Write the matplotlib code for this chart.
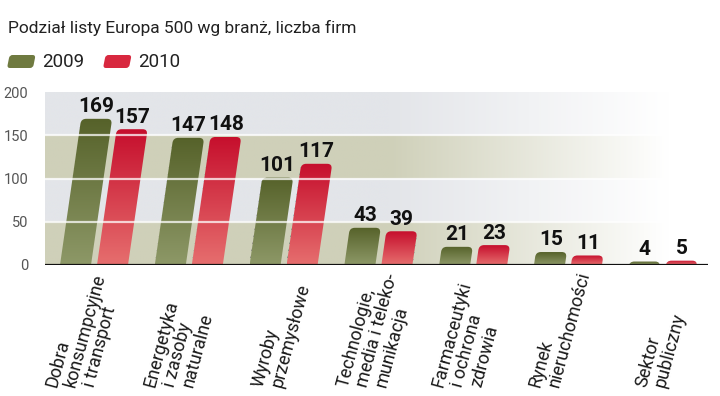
import matplotlib
matplotlib.use('Agg')
import matplotlib.pyplot as plt
import numpy as np
from matplotlib.patches import FancyBboxPatch
from matplotlib.transforms import Affine2D
from matplotlib.colors import to_rgb

categories = ['Dobra\nkonsumpcyjne\ni transport',
              'Energetyka\ni zasoby\nnaturalne',
              'Wyroby\nprzemysłowe',
              'Technologie,\nmedia i teleko-\nmunikacja',
              'Farmaceutyki\ni ochrona\nzdrowia',
              'Rynek\nnieruchomości',
              'Sektor\npubliczny']
values_2009 = [169, 147, 101, 43, 21, 15, 4]
values_2010 = [157, 148, 117, 39, 23, 11, 5]
series_names = ['2009', '2010']
yticks = [0, 50, 100, 150, 200]
title = 'Podział listy Europa 500 wg branż, liczba firm'

# layout (pixels in a 720x396 figure)
W, H = 720, 396
label_px = [43, 142, 250, 335, 430, 527, 633]   # left edge of each category label
green_top, green_bot = '#56622a', '#8d9867'
red_top, red_bot = '#c60f2d', '#e66e6e'
band_a, band_b = '#cfd0b9', '#e3e5e9'

fig = plt.figure(figsize=(7.2, 3.96), dpi=100)
ax = fig.add_axes([45 / W, 1 - 265 / H, (708 - 45) / W, (265 - 92) / H])
ax.set_xlim(-0.517, 6.477)
ax.set_ylim(0, 200)
for s in ax.spines.values():
    s.set_visible(False)

# background bands fading to white on the right
nx = 400
fade = np.clip((np.linspace(0, 1, nx) - 0.52) / 0.42, 0, 1)[None, :, None]
rows = []
for lo in range(0, 200):
    rows.append(to_rgb(band_a) if (lo // 50) % 2 == 0 else to_rgb(band_b))
bg = np.array(rows)[:, None, :] * (1 - fade) + fade
ax.imshow(bg, extent=(-0.517, 6.477, 0, 200), origin='lower', aspect='auto',
          zorder=0, interpolation='bilinear')

# skewed bars with rounded tops and a vertical gradient
px_x = (708 - 45) / (6.477 + 0.517)
px_y = (265 - 92) / 200.0
slope = 0.125 / px_x  # x data units per y unit
skew = Affine2D.from_values(1, 0, slope, 1, 0, 0)
tr = skew + ax.transData
bw = 31 / px_x
off = 18.5 / px_x
radius = 5 / px_x
grad = np.linspace(0, 1, 64)[:, None]

def draw_bar(xc, val, ctop, cbot):
    x0 = xc - bw / 2
    patch = FancyBboxPatch((x0, -20), bw, val + 20,
                           boxstyle='round,pad=0,rounding_size=%f' % radius,
                           mutation_aspect=px_x / px_y,
                           facecolor='none', edgecolor='none', transform=tr)
    ax.add_patch(patch)
    t, b = np.array(to_rgb(ctop)), np.array(to_rgb(cbot))
    img = b[None, None, :] * (1 - grad[:, :, None]) + t[None, None, :] * grad[:, :, None]
    im = ax.imshow(img, extent=(x0, x0 + bw, 0, val), origin='lower',
                   aspect='auto', transform=tr, zorder=2, interpolation='bilinear')
    im.set_clip_path(patch)
    ax.text(xc + slope * val, val + 3, str(val), ha='center', va='bottom',
            fontsize=15, fontweight='bold', family='Roboto', color='#111111', zorder=4)

x = np.arange(len(categories))
for i in x:
    draw_bar(i - off, values_2009[i], green_top, green_bot)
    draw_bar(i + off, values_2010[i], red_top, red_bot)

ax.set_xlim(-0.517, 6.477)
ax.set_ylim(0, 200)
for yv in yticks[1:-1]:
    ax.axhline(yv, color='white', lw=1.6, alpha=0.75, zorder=3)
ax.axhline(0, color='#111111', lw=1.6, zorder=5)

ax.set_xticks([])
ax.set_yticks(yticks)
ax.set_yticklabels([str(v) for v in yticks], family='Roboto', fontsize=10.5,
                   color='#555555')
ax.tick_params(axis='y', length=0, pad=12)

# category labels: one slanted line after another, all starting at the same height
for lab, px in zip(categories, label_px):
    for k, line in enumerate(lab.split('\n')):
        fig.text((px + 13 + 19 * k) / W, 1 - 388 / H, line, rotation=75,
                 rotation_mode='anchor', ha='left', va='baseline',
                 fontsize=13, family='Roboto', color='#1a1a1a')

# title and legend
fig.text(8 / W, 1 - 33 / H, title, ha='left', va='baseline', fontsize=12.5,
         family='Roboto', color='#222222')
sw = Affine2D.from_values(1, 0, 0.2, 1, 0, 0)
for sx, tx, c, name in [(8, 42, '#6f7a40', series_names[0]),
                        (104, 138, '#d8283f', series_names[1])]:
    p = FancyBboxPatch((sx - 1, H - 68), 26, 13,
                       boxstyle='round,pad=0,rounding_size=3',
                       facecolor=c, edgecolor='none',
                       transform=sw + Affine2D().translate(-0.2 * (H - 68), 0))
    fig.patches.append(p)
    fig.text(tx / W, 1 - 67 / H, name, ha='left', va='baseline', fontsize=13.5,
             family='Roboto', color='#222222')

fig.savefig('out.png', dpi=100)
